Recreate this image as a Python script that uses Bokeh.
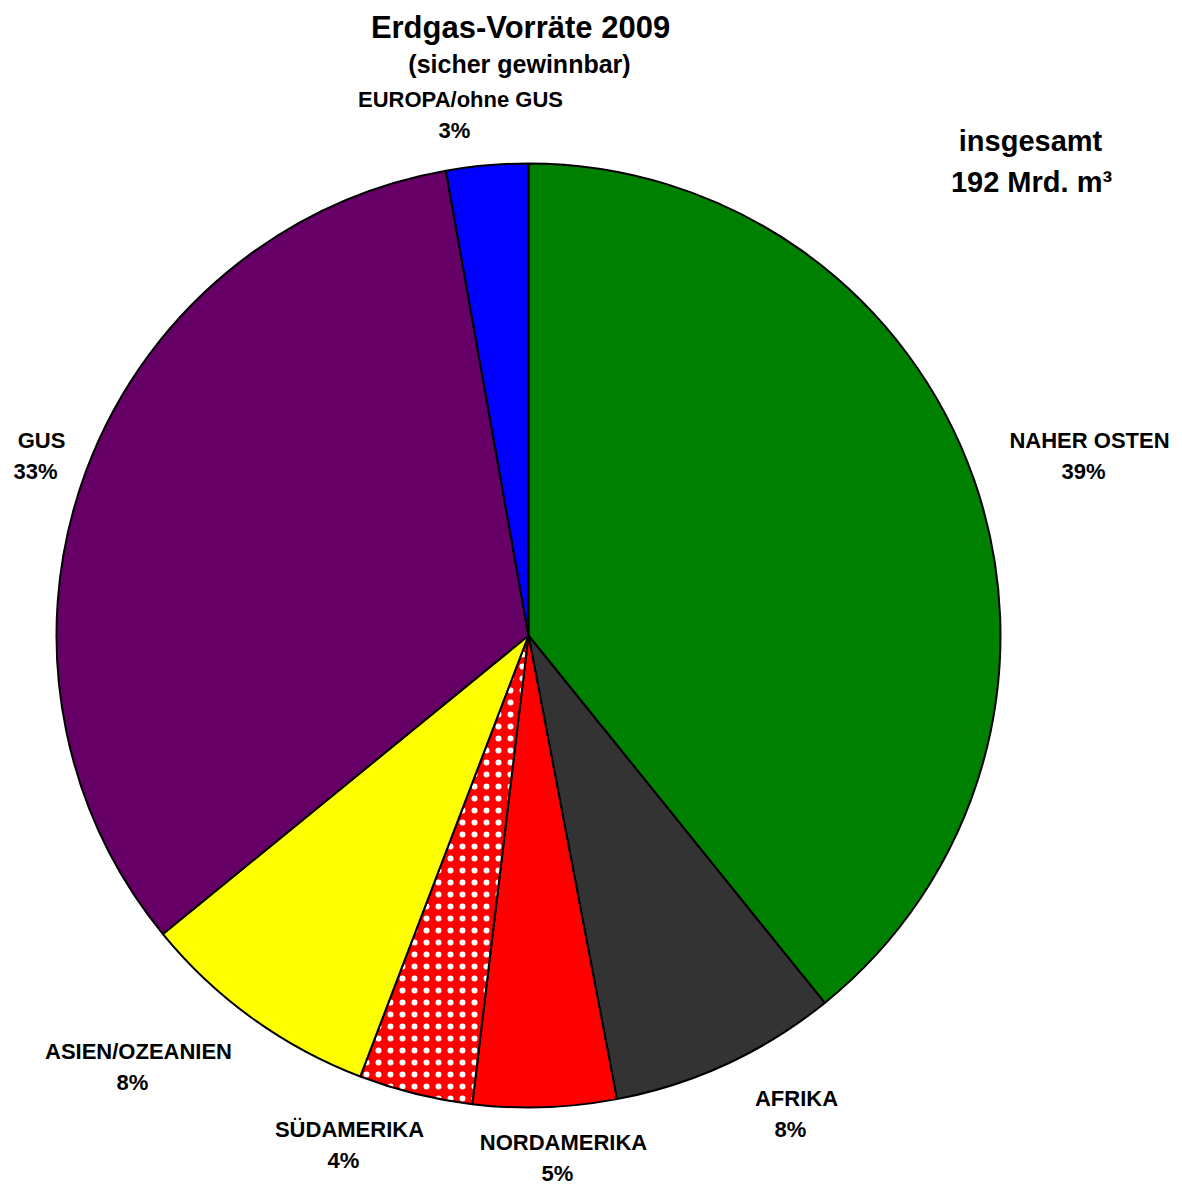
import math
from bokeh.plotting import figure
from bokeh.models import Range1d
from bokeh.core.properties import value
from bokeh.embed import file_html
from bokeh.resources import INLINE

# ---- data ----
regions = ["NAHER OSTEN", "AFRIKA", "NORDAMERIKA", "SÜDAMERIKA",
           "ASIEN/OZEANIEN", "GUS", "EUROPA/ohne GUS"]
shares = [39.2, 7.8, 4.9, 3.9, 8.3, 33.1, 2.8]
colors = ["#008000", "#333333", "#FF0000", "#FF0000", "#FFFF00", "#660066", "#0000FF"]
hatches = ["", "", "", "dot", "", "", ""]
title_lines = ["Erdgas-Vorräte 2009", "(sicher gewinnbar)"]
total_lines = ["insgesamt", "192 Mrd. m³"]

W, H = 1182, 1188
FONT = value("Liberation Sans")

p = figure(width=W, height=H, x_range=Range1d(0, W), y_range=Range1d(0, H),
           output_backend="svg", toolbar_location=None, min_border=0)
p.axis.visible = False
p.grid.visible = False
p.outline_line_color = None
p.background_fill_color = "white"


def Y(sy):  # screen y -> data y
    return H - sy


def X(sx):
    return sx


cx, cy, r = X(528), Y(635), 472
total = sum(shares)
cum = 0.0
for name, s, c, h in zip(regions, shares, colors, hatches):
    a0 = math.radians(90 - cum / total * 360)
    cum += s
    a1 = math.radians(90 - cum / total * 360)
    kw = {}
    if h:
        kw = dict(hatch_pattern=h, hatch_color="white", hatch_scale=12, hatch_weight=0.6)
    p.wedge(x=cx, y=cy, radius=r, start_angle=a0, end_angle=a1, direction="clock",
            fill_color=c, line_color="black", line_width=2, **kw)

# label positions (screen coords of name line center)
label_pos = [(1089, 440), (796, 1098), (563, 1142), (349, 1129),
             (138, 1051), (41, 440), (460, 99)]
for name, s, (lx, ly) in zip(regions, shares, label_pos):
    p.text(x=[X(lx)], y=[Y(ly)], text=[name], text_font=FONT, text_font_style="bold",
           text_font_size="22px", text_align="center", text_baseline="middle", text_color="black")
    p.text(x=[X(lx - 6)], y=[Y(ly + 31)], text=[f"{round(s)}%"], text_font=FONT,
           text_font_style="bold", text_font_size="22px", text_align="center",
           text_baseline="middle", text_color="black")

p.text(x=[X(520)], y=[Y(27)], text=[title_lines[0]], text_font=FONT, text_font_style="bold",
       text_font_size="31px", text_align="center", text_baseline="middle")
p.text(x=[X(519)], y=[Y(63)], text=[title_lines[1]], text_font=FONT, text_font_style="bold",
       text_font_size="25px", text_align="center", text_baseline="middle")
p.text(x=[X(1030)], y=[Y(140)], text=[total_lines[0]], text_font=FONT, text_font_style="bold",
       text_font_size="29px", text_align="center", text_baseline="middle")
p.text(x=[X(1031)], y=[Y(181)], text=[total_lines[1]], text_font=FONT, text_font_style="bold",
       text_font_size="29px", text_align="center", text_baseline="middle")

open("out.html", "w").write(file_html(p, INLINE))
